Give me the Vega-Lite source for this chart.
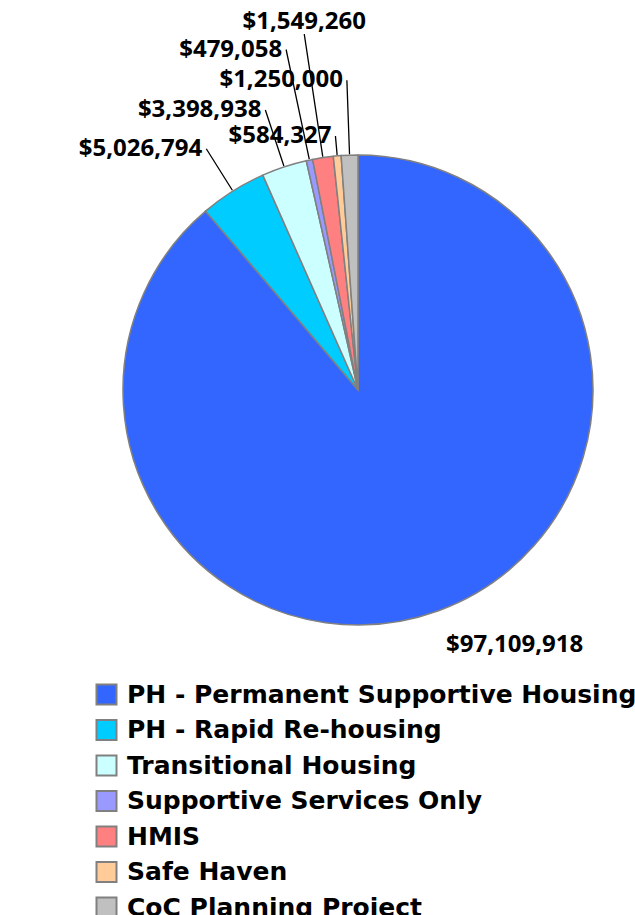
{
  "$schema": "https://vega.github.io/schema/vega-lite/v6.json",
  "autosize": {"type": "none"},
  "padding": {"left": 81, "top": 0, "right": 0, "bottom": 135},
  "width": 554,
  "height": 780,
  "background": "white",
  "config": {"view": {"stroke": null}, "text": {"font": "Open Sans", "fontWeight": "bold", "fontSize": 24, "color": "#000000"}},
  "data": {
    "values": [
      {"category": "PH - Permanent Supportive Housing", "amount": 97109918, "rank": 1},
      {"category": "PH - Rapid Re-housing", "amount": 5026794, "rank": 2},
      {"category": "Transitional Housing", "amount": 3398938, "rank": 3},
      {"category": "Supportive Services Only", "amount": 479058, "rank": 4},
      {"category": "HMIS", "amount": 1549260, "rank": 5},
      {"category": "Safe Haven", "amount": 584327, "rank": 6},
      {"category": "CoC Planning Project", "amount": 1250000, "rank": 7}
    ]
  },
  "encoding": {
    "theta": {"field": "amount", "type": "quantitative", "stack": true},
    "order": {"field": "rank", "type": "quantitative"},
    "detail": {"field": "category", "type": "nominal"}
  },
  "layer": [
    {
      "mark": {"type": "arc", "outerRadius": 235, "stroke": "#808080", "strokeWidth": 1.5},
      "encoding": {
        "color": {
          "field": "category", "type": "nominal",
          "scale": {
            "domain": ["PH - Permanent Supportive Housing", "PH - Rapid Re-housing", "Transitional Housing", "Supportive Services Only", "HMIS", "Safe Haven", "CoC Planning Project"],
            "range": ["#3366FF", "#00CCFF", "#CCFFFF", "#9999FF", "#FF8080", "#FFCC99", "#C0C0C0"]
          },
          "legend": {
            "orient": "none", "legendX": 13, "legendY": 682, "title": null,
            "symbolType": "square", "symbolSize": 400, "symbolStrokeColor": "#808080", "symbolStrokeWidth": 2,
            "labelFont": "DejaVu Sans", "labelFontSize": 25, "labelFontWeight": "bold", "labelColor": "#000000",
            "rowPadding": 6.5, "labelOffset": 8, "labelLimit": 0
          }
        }
      }
    },
    {
      "mark": {"type": "arc", "innerRadius": 236, "outerRadius": 285, "padAngle": 0.9, "filled": false, "stroke": "#000000", "strokeWidth": 1.3},
      "encoding": {"strokeOpacity": {"condition": {"test": "datum.category === 'PH - Rapid Re-housing'", "value": 1}, "value": 0}}
    },
    {
      "mark": {"type": "arc", "innerRadius": 236, "outerRadius": 295, "padAngle": 0.9, "filled": false, "stroke": "#000000", "strokeWidth": 1.3},
      "encoding": {"strokeOpacity": {"condition": {"test": "datum.category === 'Transitional Housing'", "value": 1}, "value": 0}}
    },
    {
      "mark": {"type": "arc", "innerRadius": 236, "outerRadius": 348, "padAngle": 0.9, "filled": false, "stroke": "#000000", "strokeWidth": 1.3},
      "encoding": {"strokeOpacity": {"condition": {"test": "datum.category === 'Supportive Services Only'", "value": 1}, "value": 0}}
    },
    {
      "mark": {"type": "arc", "innerRadius": 236, "outerRadius": 360, "padAngle": 0.9, "filled": false, "stroke": "#000000", "strokeWidth": 1.3},
      "encoding": {"strokeOpacity": {"condition": {"test": "datum.category === 'HMIS'", "value": 1}, "value": 0}}
    },
    {
      "mark": {"type": "arc", "innerRadius": 236, "outerRadius": 255, "padAngle": 0.9, "filled": false, "stroke": "#000000", "strokeWidth": 1.3},
      "encoding": {"strokeOpacity": {"condition": {"test": "datum.category === 'Safe Haven'", "value": 1}, "value": 0}}
    },
    {
      "mark": {"type": "arc", "innerRadius": 236, "outerRadius": 310, "padAngle": 0.9, "filled": false, "stroke": "#000000", "strokeWidth": 1.3},
      "encoding": {"strokeOpacity": {"condition": {"test": "datum.category === 'CoC Planning Project'", "value": 1}, "value": 0}}
    },
    {
      "mark": {"type": "text", "radius": 300, "align": "center", "baseline": "middle", "dx": 53, "dy": -27},
      "encoding": {"text": {"condition": {"test": "datum.category === 'PH - Permanent Supportive Housing'", "field": "amount", "type": "quantitative", "format": "$,.0f"}, "value": ""}}
    },
    {
      "mark": {"type": "text", "radius": 285, "align": "right", "baseline": "middle", "dx": -4},
      "encoding": {"text": {"condition": {"test": "datum.category === 'PH - Rapid Re-housing'", "field": "amount", "type": "quantitative", "format": "$,.0f"}, "value": ""}}
    },
    {
      "mark": {"type": "text", "radius": 295, "align": "right", "baseline": "middle", "dx": -4},
      "encoding": {"text": {"condition": {"test": "datum.category === 'Transitional Housing'", "field": "amount", "type": "quantitative", "format": "$,.0f"}, "value": ""}}
    },
    {
      "mark": {"type": "text", "radius": 348, "align": "right", "baseline": "middle", "dx": -4},
      "encoding": {"text": {"condition": {"test": "datum.category === 'Supportive Services Only'", "field": "amount", "type": "quantitative", "format": "$,.0f"}, "value": ""}}
    },
    {
      "mark": {"type": "text", "radius": 360, "align": "center", "baseline": "bottom", "dy": 0},
      "encoding": {"text": {"condition": {"test": "datum.category === 'HMIS'", "field": "amount", "type": "quantitative", "format": "$,.0f"}, "value": ""}}
    },
    {
      "mark": {"type": "text", "radius": 255, "align": "right", "baseline": "middle", "dx": -4},
      "encoding": {"text": {"condition": {"test": "datum.category === 'Safe Haven'", "field": "amount", "type": "quantitative", "format": "$,.0f"}, "value": ""}}
    },
    {
      "mark": {"type": "text", "radius": 310, "align": "right", "baseline": "middle", "dx": -4},
      "encoding": {"text": {"condition": {"test": "datum.category === 'CoC Planning Project'", "field": "amount", "type": "quantitative", "format": "$,.0f"}, "value": ""}}
    }
  ]
}
